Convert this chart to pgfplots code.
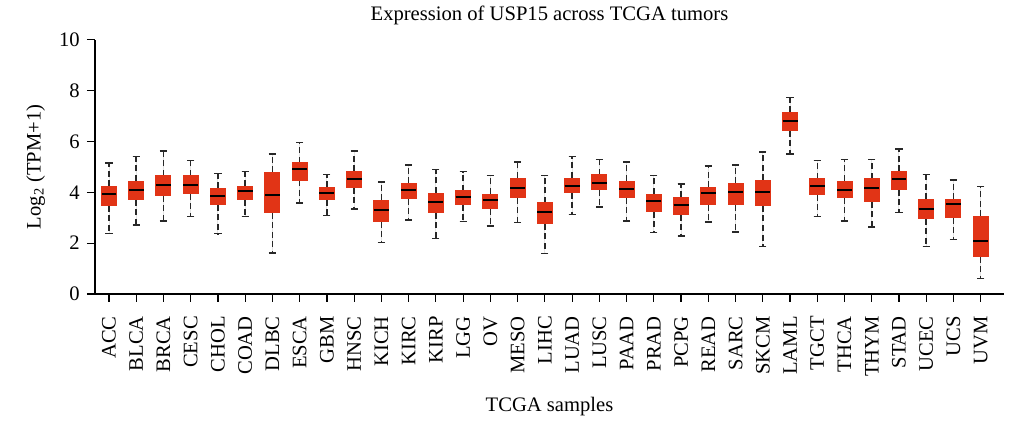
\documentclass[border=0pt]{standalone}
\usepackage{fontspec}
\setmainfont{Liberation Serif}
\usepackage{pgfplots}
\pgfplotsset{compat=1.18}
\usepgfplotslibrary{statistics}
\definecolor{boxred}{RGB}{225,52,22}
\definecolor{whisk}{RGB}{40,40,40}
\newcommand{\bx}[6]{\addplot[boxred, fill=boxred, draw=boxred, line width=0pt,
  boxplot prepared={draw position=#1, lower whisker=#2, lower quartile=#3,
  median=#4, upper quartile=#5, upper whisker=#6}] coordinates {};}
\begin{document}
\fontsize{10.3}{12}\selectfont
\begin{tikzpicture}
\begin{axis}[name=ax,
  scale only axis, width=454.5pt, height=127.15pt,
  xmin=0.486, xmax=33.855, ymin=0, ymax=10,
  axis x line*=bottom, axis y line*=left,
  axis line style={-, line width=0.7pt, black},
  tick align=outside, major tick length=4pt,
  tick style={black, line width=0.6pt},
  ytick={0,2,4,6,8,10},
  xtick={1,...,33},
  xticklabels={ACC,BLCA,BRCA,CESC,CHOL,COAD,DLBC,ESCA,GBM,HNSC,KICH,KIRC,KIRP,LGG,OV,MESO,LIHC,LUAD,LUSC,PAAD,PRAD,PCPG,READ,SARC,SKCM,LAML,TGCT,THCA,THYM,STAD,UCEC,UCS,UVM},
  xticklabel style={yshift=-3.5pt, rotate=90, anchor=east, font=\fontsize{10.3}{12}\selectfont},
  yticklabel style={font=\fontsize{10.3}{12}\selectfont},
  /pgf/number format/assume math mode=true,
  title={Expression of USP15 across TCGA tumors},
  title style={font=\fontsize{10.3}{12}\selectfont, yshift=-2pt},
  xlabel={TCGA samples},
  xlabel style={yshift=-3pt},
  ylabel={Log\textsubscript{2} (TPM+1)},
  label style={font=\fontsize{10.3}{12}\selectfont},
  boxplot/draw direction=y,
  boxplot/box extend=0.55,
  boxplot/whisker extend=0.26,
  boxplot/every median/.style={black, line width=1pt},
  boxplot/draw/lower whisker/.code={%
    \draw[whisk, line width=0.75pt, dash pattern=on 3pt off 1.8pt]
      (boxplot box cs:\pgfplotsboxplotvalue{lower quartile},0.5) --
      (boxplot box cs:\pgfplotsboxplotvalue{lower whisker},0.5);
    \draw[whisk, line width=0.75pt]
      (boxplot whisker cs:\pgfplotsboxplotvalue{lower whisker},0) --
      (boxplot whisker cs:\pgfplotsboxplotvalue{lower whisker},1);
  },
  boxplot/draw/upper whisker/.code={%
    \draw[whisk, line width=0.75pt, dash pattern=on 3pt off 1.8pt]
      (boxplot box cs:\pgfplotsboxplotvalue{upper quartile},0.5) --
      (boxplot box cs:\pgfplotsboxplotvalue{upper whisker},0.5);
    \draw[whisk, line width=0.75pt]
      (boxplot whisker cs:\pgfplotsboxplotvalue{upper whisker},0) --
      (boxplot whisker cs:\pgfplotsboxplotvalue{upper whisker},1);
  },
]
\bx{1}{2.37}{3.47}{3.92}{4.24}{5.16}
\bx{2}{2.71}{3.71}{4.09}{4.44}{5.40}
\bx{3}{2.88}{3.86}{4.30}{4.64}{5.63}
\bx{4}{3.05}{3.94}{4.28}{4.64}{5.25}
\bx{5}{2.37}{3.51}{3.84}{4.15}{4.73}
\bx{6}{3.05}{3.71}{4.06}{4.24}{4.81}
\bx{7}{1.62}{3.20}{3.89}{4.78}{5.51}
\bx{8}{3.58}{4.48}{4.90}{5.17}{5.95}
\bx{9}{3.09}{3.71}{3.98}{4.19}{4.70}
\bx{10}{3.34}{4.18}{4.53}{4.83}{5.62}
\bx{11}{2.03}{2.84}{3.31}{3.69}{4.40}
\bx{12}{2.91}{3.75}{4.10}{4.35}{5.08}
\bx{13}{2.19}{3.20}{3.63}{3.97}{4.89}
\bx{14}{2.86}{3.51}{3.82}{4.05}{4.81}
\bx{15}{2.68}{3.35}{3.69}{3.93}{4.66}
\bx{16}{2.82}{3.79}{4.17}{4.56}{5.20}
\bx{17}{1.60}{2.76}{3.21}{3.58}{4.66}
\bx{18}{3.13}{3.98}{4.26}{4.56}{5.40}
\bx{19}{3.42}{4.10}{4.36}{4.68}{5.28}
\bx{20}{2.87}{3.79}{4.14}{4.44}{5.19}
\bx{21}{2.41}{3.24}{3.65}{3.93}{4.66}
\bx{22}{2.28}{3.12}{3.51}{3.80}{4.33}
\bx{23}{2.83}{3.51}{3.97}{4.20}{5.04}
\bx{24}{2.44}{3.51}{4.02}{4.35}{5.08}
\bx{25}{1.86}{3.47}{4.02}{4.47}{5.59}
\bx{26}{5.51}{6.42}{6.82}{7.15}{7.73}
\bx{27}{3.04}{3.90}{4.23}{4.54}{5.25}
\bx{28}{2.88}{3.79}{4.07}{4.44}{5.28}
\bx{29}{2.63}{3.63}{4.15}{4.54}{5.28}
\bx{30}{3.20}{4.10}{4.52}{4.82}{5.71}
\bx{31}{1.86}{2.96}{3.35}{3.72}{4.69}
\bx{32}{2.14}{3.00}{3.52}{3.72}{4.49}
\bx{33}{0.60}{1.47}{2.10}{3.05}{4.23}
\end{axis}
\pgfresetboundingbox
\path[use as bounding box] ([xshift=-47.5pt,yshift=-63.5pt]ax.south west) rectangle ([xshift=6.5pt,yshift=19.85pt]ax.north east);
\end{tikzpicture}
\end{document}
